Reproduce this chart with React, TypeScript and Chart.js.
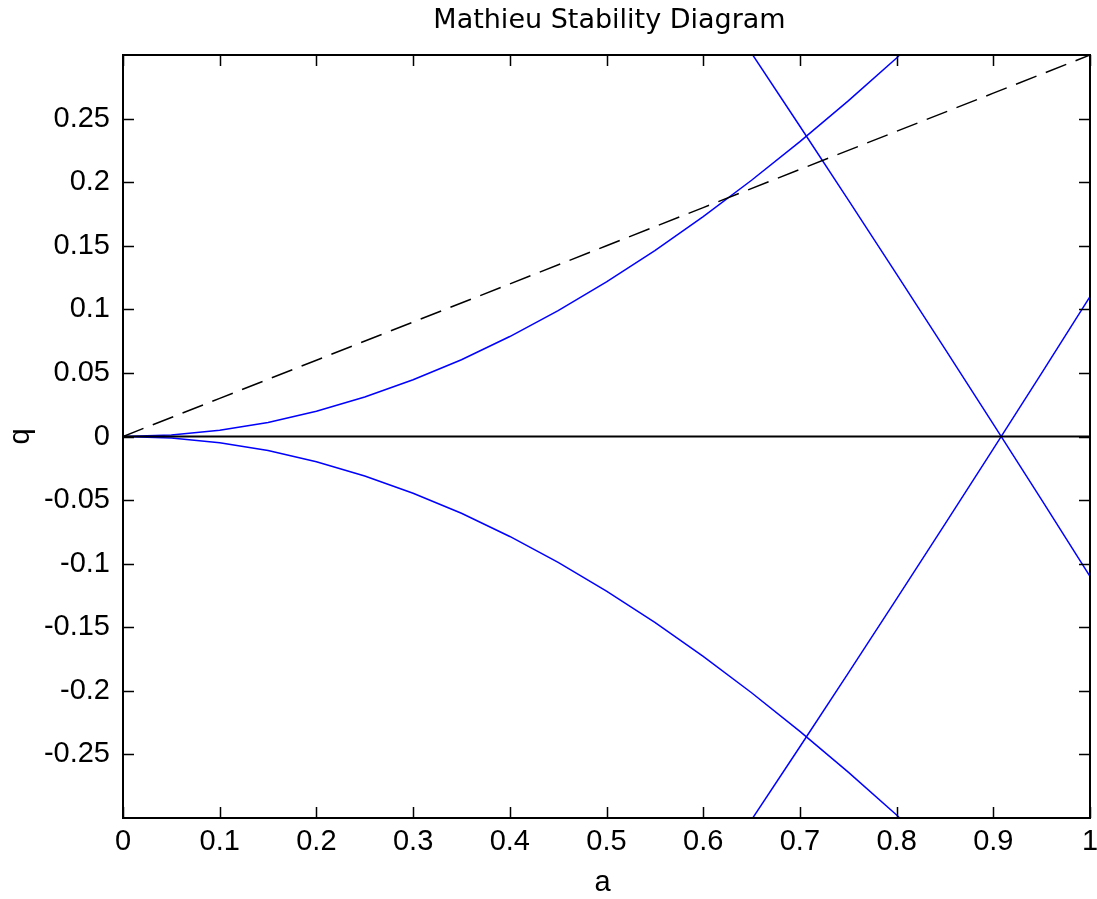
import React, { useEffect, useRef } from "react";
import { Chart, registerables } from "chart.js";

Chart.register(...registerables);

// ---- data ----
const curveA = [0, 0.05, 0.1, 0.15, 0.2, 0.25, 0.3, 0.35, 0.4, 0.45, 0.5, 0.55, 0.6, 0.65, 0.7, 0.75, 0.8, 0.85];
const upperQ = [0, 0.0012, 0.005, 0.011, 0.0199, 0.031, 0.0446, 0.0604, 0.0786, 0.099, 0.1216, 0.1462, 0.1729, 0.2015, 0.2319, 0.2639, 0.2976, 0.3363];
const lowerQ = [0, -0.0012, -0.005, -0.011, -0.0199, -0.031, -0.0446, -0.0604, -0.0786, -0.099, -0.1216, -0.1462, -0.1729, -0.2015, -0.2319, -0.2639, -0.2976, -0.3363];

const lineA = [0.6, 0.65, 0.7, 0.75, 0.8, 0.85, 0.9, 0.95, 1.0];
const fallingQ = [0.3583, 0.3014, 0.244, 0.1861, 0.1277, 0.0689, 0.0097, -0.0499, -0.11];
const risingQ = [-0.3583, -0.3014, -0.244, -0.1861, -0.1277, -0.0689, -0.0097, 0.0499, 0.11];

const dashA = [0, 0.1, 0.2, 0.3, 0.4, 0.5, 0.6, 0.7, 0.8, 0.9, 1.0];
const dashQ = [0, 0.03, 0.06, 0.09, 0.12, 0.15, 0.18, 0.21, 0.24, 0.27, 0.3];

const zeroA = [0, 1];
const zeroQ = [0, 0];

const xTickValues = [0, 0.1, 0.2, 0.3, 0.4, 0.5, 0.6, 0.7, 0.8, 0.9, 1];
const yTickValues = [-0.25, -0.2, -0.15, -0.1, -0.05, 0, 0.05, 0.1, 0.15, 0.2, 0.25];

const titleText = "Mathieu Stability Diagram";
const xLabel = "a";
const yLabel = "q";

const zip = (xs: number[], ys: number[]) => xs.map((x, i) => ({ x, y: ys[i] }));

const TICK_FONT = "'Liberation Sans', Arial, sans-serif";
const TITLE_FONT = "'DejaVu Sans', sans-serif";

const framePlugin = {
  id: "matlabFrame",
  afterDraw(chart: any) {
    const { ctx, chartArea } = chart;
    const { left, right, top, bottom } = chartArea;
    const xs = chart.scales.x;
    const ys = chart.scales.y;
    const tl = 11;
    ctx.save();
    ctx.strokeStyle = "#000";
    ctx.lineWidth = 2;
    ctx.strokeRect(left, top, right - left, bottom - top);
    ctx.lineWidth = 1.5;
    ctx.beginPath();
    xTickValues.forEach((v) => {
      const px = Math.round(xs.getPixelForValue(v)) + 0.5;
      ctx.moveTo(px, bottom);
      ctx.lineTo(px, bottom - tl);
      ctx.moveTo(px, top);
      ctx.lineTo(px, top + tl);
    });
    yTickValues.forEach((v) => {
      const py = Math.round(ys.getPixelForValue(v)) + 0.5;
      ctx.moveTo(left, py);
      ctx.lineTo(left + tl, py);
      ctx.moveTo(right, py);
      ctx.lineTo(right - tl, py);
    });
    ctx.stroke();

    ctx.fillStyle = "#000";
    ctx.textAlign = "center";
    ctx.textBaseline = "middle";
    ctx.font = `27px ${TITLE_FONT}`;
    ctx.fillText(titleText, (left + right) / 2 + 3, 21);
    ctx.font = `29px ${TICK_FONT}`;
    ctx.fillText(xLabel, (left + right) / 2 - 4, 883);
    ctx.translate(21, (top + bottom) / 2);
    ctx.rotate(-Math.PI / 2);
    ctx.fillText(yLabel, 0, 0);
    ctx.restore();
  },
};

export default function App() {
  const ref = useRef<HTMLCanvasElement | null>(null);
  useEffect(() => {
    if (!ref.current) return;
    const blue = "#0000ff";
    const chart = new Chart(ref.current, {
      type: "line",
      data: {
        datasets: [
          { data: zip(zeroA, zeroQ), borderColor: "#000", borderWidth: 2, pointRadius: 0 },
          { data: zip(dashA, dashQ), borderColor: "#000", borderWidth: 1.5, borderDash: [22, 10], pointRadius: 0 },
          { data: zip(curveA, upperQ), borderColor: blue, borderWidth: 1.5, pointRadius: 0 },
          { data: zip(curveA, lowerQ), borderColor: blue, borderWidth: 1.5, pointRadius: 0 },
          { data: zip(lineA, fallingQ), borderColor: blue, borderWidth: 1.5, pointRadius: 0 },
          { data: zip(lineA, risingQ), borderColor: blue, borderWidth: 1.5, pointRadius: 0 },
        ] as any,
      },
      options: {
        animation: false,
        responsive: false,
        devicePixelRatio: 1,
        layout: { padding: { top: 55, right: 7, bottom: 0, left: 0 } },
        plugins: { legend: { display: false }, tooltip: { enabled: false }, title: { display: false } },
        elements: { line: { tension: 0 } },
        scales: {
          x: {
            type: "linear",
            min: 0,
            max: 1,
            grid: { display: false, drawTicks: false },
            border: { display: false },
            afterBuildTicks: (s: any) => {
              s.ticks = xTickValues.map((value) => ({ value }));
            },
            afterFit: (s: any) => {
              s.height = 81;
              s.paddingLeft = 0;
              s.paddingRight = 0;
            },
            ticks: {
              color: "#000",
              padding: 7,
              maxRotation: 0,
              autoSkip: false,
              font: { family: TICK_FONT, size: 29 },
              callback: (v: any) => String(Number(Number(v).toFixed(2))),
            },
          },
          y: {
            type: "linear",
            min: -0.3,
            max: 0.3,
            grid: { display: false, drawTicks: false },
            border: { display: false },
            afterBuildTicks: (s: any) => {
              s.ticks = yTickValues.map((value) => ({ value }));
            },
            afterFit: (s: any) => {
              s.width = 123;
              s.paddingTop = 0;
              s.paddingBottom = 0;
            },
            ticks: {
              color: "#000",
              padding: 13,
              autoSkip: false,
              font: { family: TICK_FONT, size: 29 },
              callback: (v: any) => String(Number(Number(v).toFixed(2))),
            },
          },
        },
      } as any,
      plugins: [framePlugin],
    });
    return () => chart.destroy();
  }, []);
  return (
    <div style={{ position: "absolute", left: 0, top: 0, width: 1097, height: 899, background: "#fff" }}>
      <canvas ref={ref} width={1097} height={899} style={{ display: "block" }} />
    </div>
  );
}
